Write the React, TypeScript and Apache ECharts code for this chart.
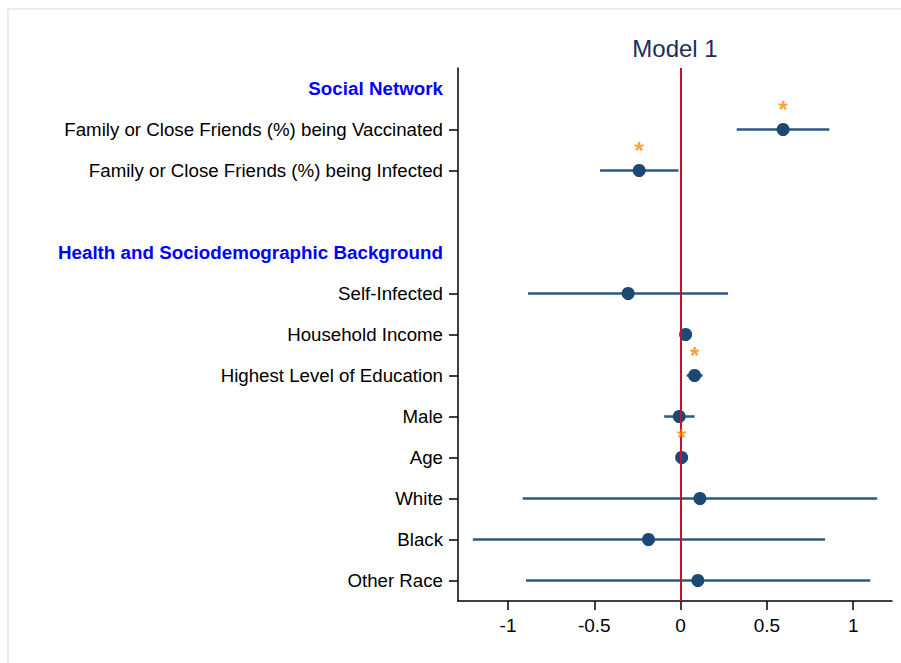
import React, { useEffect, useRef } from "react";
import * as echarts from "echarts";

const categories = [
  "Social Network",
  "Family or Close Friends (%) being Vaccinated",
  "Family or Close Friends (%) being Infected",
  "",
  "Health and Sociodemographic Background",
  "Self-Infected",
  "Household Income",
  "Highest Level of Education",
  "Male",
  "Age",
  "White",
  "Black",
  "Other Race",
];
const headers = ["Social Network", "Health and Sociodemographic Background"];
const estimates = [null, 0.594, -0.24, null, null, -0.304, 0.029, 0.081, -0.008, 0.006, 0.112, -0.186, 0.1];
const ciLower = [null, 0.325, -0.467, null, null, -0.884, 0.012, 0.035, -0.095, -0.003, -0.915, -1.204, -0.896];
const ciUpper = [null, 0.862, -0.012, null, null, 0.275, 0.046, 0.128, 0.081, 0.015, 1.139, 0.837, 1.099];
const significant = [false, true, true, false, false, false, false, true, false, true, false, false, false];
const xTicks = [-1, -0.5, 0, 0.5, 1];
const title = "Model 1";

const FONT = "'Liberation Sans', Arial, Helvetica, sans-serif";

export default function App() {
  const ref = useRef<HTMLDivElement>(null);
  useEffect(() => {
    if (!ref.current) return;
    const chart = echarts.init(ref.current, null, { renderer: "svg" });
    const rows = categories.map((c, i) => i).filter((i) => estimates[i] !== null);
    const ciData = rows.map((i) => [ciLower[i], ciUpper[i], i]);
    const pointData = rows.map((i) => [estimates[i], i]);
    const starData = rows.filter((i) => significant[i]).map((i) => [estimates[i], i]);
    chart.setOption({
      animation: false,
      backgroundColor: "#ffffff",
      graphic: [
        {
          type: "rect",
          shape: { x: 8, y: 9, width: 900, height: 660 },
          style: { fill: "none", stroke: "#e8eeee", lineWidth: 2 },
          silent: true,
        },
        {
          type: "text",
          x: 675,
          y: 48,
          style: {
            text: title,
            align: "center",
            verticalAlign: "middle",
            fontSize: 24,
            fontFamily: FONT,
            fill: "#1c2f57",
          },
        },
      ],
      grid: {
        left: 458,
        right: 9,
        top: 68,
        bottom: 62,
        containLabel: false,
        outerBoundsMode: "none",
      },
      xAxis: {
        type: "value",
        min: -1.29,
        max: 1.225,
        axisLine: { show: true, onZero: false, lineStyle: { color: "#000", width: 1.5 } },
        axisTick: { show: true, length: 9, customValues: xTicks, lineStyle: { color: "#000", width: 1.5 } },
        axisLabel: {
          customValues: xTicks,
          margin: 15,
          fontSize: 19,
          fontFamily: FONT,
          color: "#000",
          formatter: (v: number) => String(v),
        },
        splitLine: { show: false },
      },
      yAxis: {
        type: "category",
        data: categories,
        inverse: true,
        axisLine: { show: true, onZero: false, lineStyle: { color: "#000", width: 1.5 } },
        axisTick: {
          show: true,
          alignWithLabel: true,
          length: 9,
          interval: (i: number) => estimates[i] !== null,
          lineStyle: { color: "#000", width: 1.5 },
        },
        axisLabel: {
          interval: 0,
          margin: 15,
          fontSize: 18.7,
          fontFamily: FONT,
          color: "#000",
          formatter: (v: string) => (headers.includes(v) ? `{h|${v}}` : v),
          rich: {
            h: { fontSize: 18.8, fontWeight: "bold", color: "#0000ff", fontFamily: FONT },
          },
        },
        splitLine: { show: false },
      },
      series: [
        {
          type: "custom",
          z: 2,
          data: ciData,
          encode: { x: [0, 1], y: 2 },
          renderItem: (params: any, api: any) => {
            const s = api.coord([api.value(0), api.value(2)]);
            const e = api.coord([api.value(1), api.value(2)]);
            return {
              type: "line",
              shape: { x1: s[0], y1: s[1], x2: e[0], y2: e[1] },
              style: { stroke: "#2b5884", lineWidth: 2.5 },
            };
          },
        },
        {
          type: "line",
          z: 3,
          data: [],
          markLine: {
            silent: true,
            symbol: "none",
            label: { show: false },
            lineStyle: { color: "#c8102e", width: 2, type: "solid" },
            data: [{ xAxis: 0 }],
          },
        },
        {
          type: "scatter",
          z: 4,
          data: pointData,
          symbol: "circle",
          symbolSize: 13,
          itemStyle: { color: "#1b4973", opacity: 1 },
        },
        {
          type: "scatter",
          z: 5,
          data: starData,
          symbolSize: 1,
          itemStyle: { color: "rgba(0,0,0,0)" },
          label: {
            show: true,
            position: "inside",
            formatter: "*",
            offset: [0, -20],
            fontSize: 24,
            fontWeight: "bold",
            fontFamily: FONT,
            color: "#ff8800",
          },
        },
      ],
    });
    return () => chart.dispose();
  }, []);
  return (
    <div
      ref={ref}
      style={{ position: "fixed", left: 0, top: 0, width: 901, height: 663 }}
    />
  );
}
